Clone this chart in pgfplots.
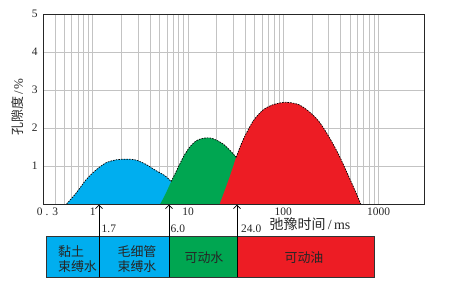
\documentclass[border=0pt]{standalone}
\usepackage{pgfplots}
\pgfplotsset{compat=1.18}
\usepackage{fontspec}
\setmainfont{Liberation Serif}
\newfontfamily\cjk{Noto Sans CJK SC}
\usetikzlibrary{arrows.meta}
\definecolor{cblue}{RGB}{0,174,239}
\definecolor{cgreen}{RGB}{0,166,81}
\definecolor{cred}{RGB}{237,28,36}
\definecolor{gridgray}{RGB}{195,195,195}
\tikzset{outl/.style={black, dash pattern=on 1.6bp off 1.1bp, line width=0.7bp, smooth}}
\begin{document}
\begin{tikzpicture}[x=1bp,y=1bp]
\path[use as bounding box] (0,0) rectangle (464,-286);
\begin{axis}[
  at={(43bp,-204bp)}, anchor=south west,
  scale only axis, width=381bp, height=190bp,
  xmode=log, xmin=0.3, xmax=3000, ymin=0, ymax=5,
  xtick={0.3,1,10,100,1000}, xticklabels={\hspace*{9bp}0 . 3,1,10,100,1000},
  minor xtick={0.4,0.5,0.6,0.7,0.8,0.9,2,3,4,5,6,7,8,9,20,30,40,50,60,70,80,90,200,300,400,500,600,700,800,900},
  ytick={1,2,3,4,5},
  grid=both,
  major grid style={gridgray, line width=0.7pt},
  minor grid style={gridgray, line width=0.7pt},
  major tick length=0pt, minor tick length=0pt,
  axis line style={black!85, line width=0.8pt},
  tick label style={font=\fontsize{11.5}{12}\selectfont, text=black!85},
  yticklabel style={xshift=-2bp},
  /pgf/number format/assume math mode=true,
]
% fills
\addplot[draw=none, fill=cblue, smooth] coordinates {
(0.53,0) (0.665,0.28) (0.846,0.63) (1.075,0.89) (1.366,1.08) (1.74,1.16) (2.21,1.18) (2.80,1.16) (3.57,1.05) (4.53,0.89) (5.75,0.74) (6.65,0.59) (7.6,0.42) (9,0.2) (10.5,0)
} \closedcycle;
\addplot[draw=none, fill=cgreen, smooth] coordinates {
(5.1,0) (5.76,0.25) (6.65,0.59) (7.62,0.89) (8.93,1.24) (10.5,1.51) (12.3,1.67) (14.4,1.73) (16.9,1.74) (19.9,1.68) (23.3,1.58) (27.4,1.42) (32,1.23) (37,1.0) (45,0.55) (55,0)
} \closedcycle;
\addplot[draw=none, fill=cred, smooth] coordinates {
(21.5,0) (27.4,0.72) (32,1.23) (37.7,1.68) (47.9,2.17) (60.9,2.47) (77.4,2.61) (98.4,2.67) (115.5,2.67) (146.8,2.61) (186.6,2.43) (237,2.17) (301,1.77) (383,1.29) (487,0.72) (560,0.38) (650,0)
} \closedcycle;
% dashed outlines (visible envelope)
\addplot[outl] coordinates {
(0.53,0) (0.665,0.28) (0.846,0.63) (1.075,0.89) (1.366,1.08) (1.74,1.16) (2.21,1.18) (2.80,1.16) (3.57,1.05) (4.53,0.89) (5.75,0.74) (6.65,0.59)
};
\addplot[outl] coordinates {
(6.65,0.59) (7.62,0.89) (8.93,1.24) (10.5,1.51) (12.3,1.67) (14.4,1.73) (16.9,1.74) (19.9,1.68) (23.3,1.58) (27.4,1.42) (32,1.23)
};
\addplot[outl] coordinates {
(32,1.23) (37.7,1.68) (47.9,2.17) (60.9,2.47) (77.4,2.61) (98.4,2.67) (115.5,2.67) (146.8,2.61) (186.6,2.43) (237,2.17) (301,1.77) (383,1.29) (487,0.72) (560,0.38) (650,0)
};
\draw[black!85, line width=0.8pt] (rel axis cs:0,0) -- (rel axis cs:1,0);
\end{axis}
% classification bar
\begin{scope}[draw=black!80, line width=0.6pt]
\draw[fill=cblue] (46,-236) rectangle (99,-277);
\draw[fill=cblue] (99,-236) rectangle (169,-277);
\draw[fill=cgreen] (169,-236) rectangle (237,-277);
\draw[fill=cred] (237,-236) rectangle (374,-277);
\end{scope}
\foreach \xx in {99,169,237}{
  \draw[black, line width=0.8pt, -{Straight Barb[length=3.5bp, width=7bp]}] (\xx,-277) -- (\xx,-204.6);
}
\begin{scope}[every node/.style={font=\fontsize{11.5}{12}\selectfont, text=black!85, inner sep=0pt}]
\node[anchor=west] at (101.5,-229) {1.7};
\node[anchor=west] at (170.5,-229) {6.0};
\node[anchor=west] at (241,-229) {24.0};
\end{scope}
\node[text=black!85, font=\fontsize{14}{14}\selectfont, inner sep=0pt] at (310,-224.5) {{\cjk 弛豫时间}\,/\,ms};
\node[text=black!85, rotate=90, font=\fontsize{13}{13}\selectfont, inner sep=0pt] at (18,-107) {{\cjk 孔隙度}\,/\,\%};
\begin{scope}[every node/.style={font=\cjk\fontsize{13}{14.5}\selectfont, text=black!85, inner sep=0pt}]
\node[align=left] at (77.5,-259) {黏土\\束缚水};
\node[align=center] at (137,-259) {毛细管\\束缚水};
\node at (204,-258) {可动水};
\node at (304,-258) {可动油};
\end{scope}
\end{tikzpicture}
\end{document}
